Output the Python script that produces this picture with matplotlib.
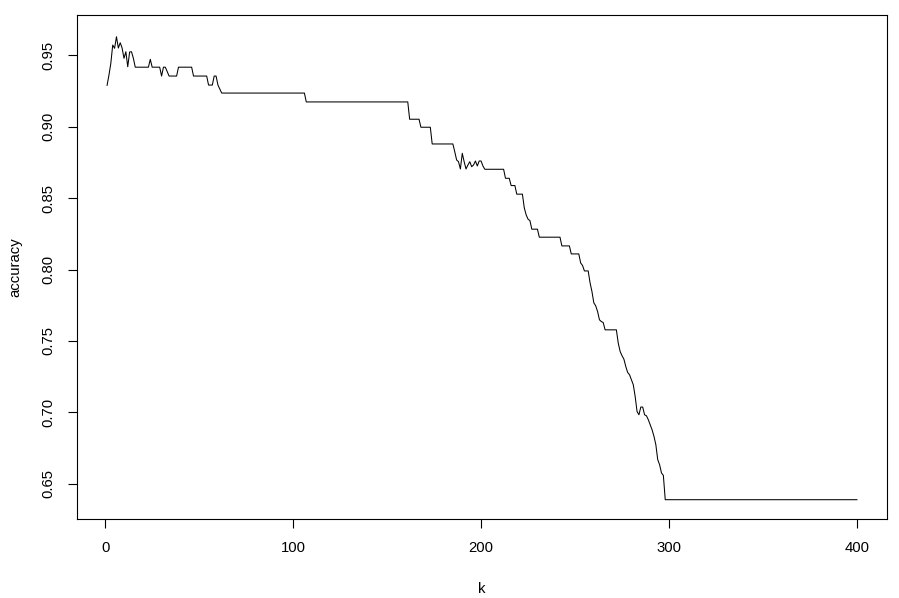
import numpy as np
import matplotlib
matplotlib.use("Agg")
import matplotlib.pyplot as plt

# k = 1..400, accuracy (run-length: level, how many k's)
k_values = np.arange(1, 401)

acc_levels = [
    0.9288, 0.9360, 0.9442, 0.9570, 0.9547, 0.9628, 0.9549, 0.9586, 0.9549, 0.9477,
    0.9523, 0.9418, 0.9521, 0.9523, 0.9477,
    0.9415, 0.9470, 0.9415, 0.9353, 0.9415, 0.9384, 0.9353, 0.9415, 0.9353,
    0.9290, 0.9353, 0.9290, 0.9262, 0.9234, 0.9172,
    0.9051, 0.8995, 0.8878,
    0.8824, 0.8766, 0.8754, 0.8703, 0.8813, 0.8754, 0.8703, 0.8731, 0.8754, 0.8719,
    0.8731, 0.8759, 0.8724, 0.8759, 0.8759, 0.8724,
    0.8701, 0.8638, 0.8587, 0.8527, 0.8431, 0.8382, 0.8352, 0.8342, 0.8282, 0.8226,
    0.8165, 0.8109, 0.8046, 0.8028, 0.7990,
    0.7907, 0.7846, 0.7767, 0.7746, 0.7706, 0.7648, 0.7636, 0.7629, 0.7578,
    0.7485, 0.7427, 0.7397, 0.7373, 0.7322, 0.7280, 0.7264, 0.7229, 0.7194, 0.7112,
    0.7007, 0.6984, 0.7038, 0.7038, 0.6984, 0.6977, 0.6949, 0.6914, 0.6879, 0.6833,
    0.6775, 0.6670, 0.6635, 0.6577, 0.6560,
    0.6390,
]
acc_counts = [
    1, 1, 1, 1, 1, 1, 1, 1, 1, 1,
    1, 1, 1, 1, 1,
    8, 1, 5, 1, 2, 1, 5, 8, 8,
    3, 2, 1, 1, 45, 55,
    6, 6, 12,
    1, 1, 1, 1, 1, 1, 1, 1, 1, 1,
    1, 1, 1, 1, 1, 1,
    11, 3, 3, 4, 1, 1, 1, 1, 4, 12,
    5, 5, 1, 1, 3,
    1, 1, 1, 1, 1, 1, 1, 1, 7,
    1, 1, 1, 1, 1, 1, 1, 1, 1, 1,
    1, 1, 1, 1, 1, 1, 1, 1, 1, 1,
    1, 1, 1, 1, 1,
    103,
]
accuracy = np.repeat(acc_levels, acc_counts)
assert len(accuracy) == len(k_values)

x_ticks = [0, 100, 200, 300, 400]
y_ticks = [0.65, 0.70, 0.75, 0.80, 0.85, 0.90, 0.95]

plt.rcParams['font.family'] = ['Liberation Sans', 'DejaVu Sans']

fig = plt.figure(figsize=(8.99, 5.98), dpi=100)
ax = fig.add_axes([77 / 899, 1 - 519 / 598, (887 - 77) / 899, (519 - 15) / 598])

ax.plot(k_values, accuracy, color='black', linewidth=0.75)

ax.set_xlim(-15.0, 416.0)
ax.set_ylim(0.6255, 0.978)
ax.set_xticks(x_ticks)
ax.set_xticklabels([str(t) for t in x_ticks])
ax.set_yticks(y_ticks)
ax.set_yticklabels([f"{t:.2f}" for t in y_ticks], rotation=90, va='center')

ax.tick_params(direction='out', length=6.5, width=0.8, pad=9, labelsize=10.7,
               colors='black')
for s in ax.spines.values():
    s.set_linewidth(0.8)
    s.set_color('black')

ax.set_xlabel('k', fontsize=10.7, labelpad=20)
ax.set_ylabel('accuracy', fontsize=10.7, labelpad=14)

fig.savefig('out.png', dpi=100)
